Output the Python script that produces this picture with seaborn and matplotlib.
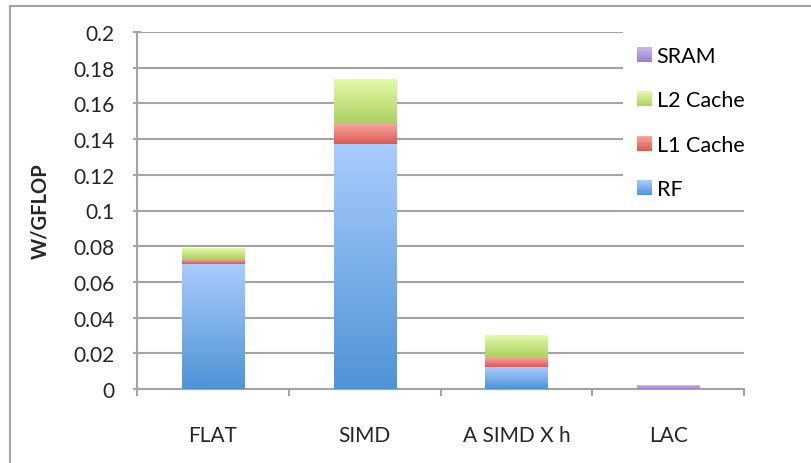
import numpy as np
import matplotlib
matplotlib.use("Agg")
import matplotlib.pyplot as plt
from matplotlib.colors import LinearSegmentedColormap
from matplotlib.legend_handler import HandlerBase
from matplotlib.patches import Rectangle
from matplotlib.lines import Line2D
import seaborn as sns

# ---- data -------------------------------------------------------------
categories = ["FLAT", "SIMD", "A SIMD X h", "LAC"]
rf = [0.0700, 0.1370, 0.0123, 0.0]
l1_cache = [0.0027, 0.0113, 0.0056, 0.0]
l2_cache = [0.0060, 0.0247, 0.0122, 0.0]
sram = [0.0, 0.0, 0.0, 0.0022]
series_names = ["RF", "L1 Cache", "L2 Cache", "SRAM"]
y_ticks = [0, 0.02, 0.04, 0.06, 0.08, 0.1, 0.12, 0.14, 0.16, 0.18, 0.2]
y_tick_labels = ["0", "0.02", "0.04", "0.06", "0.08", "0.1",
                 "0.12", "0.14", "0.16", "0.18", "0.2"]
y_label = "W/GFLOP"

# (top colour, bottom colour) of each series' vertical gradient
gradients = {
    "RF": ("#A9CCFE", "#4F93D6"),
    "L1 Cache": ("#FAA8A4", "#DA594E"),
    "L2 Cache": ("#E4FAA9", "#ACD061"),
    "SRAM": ("#CDB8EC", "#9A80C8"),
}

GRID = "#a4a4a4"
W, H = 811, 464
FS = 15

sns.set_theme(style="white")
plt.rcParams["font.family"] = ["Lato", "DejaVu Sans"]
plt.rcParams["text.color"] = "#000000"
plt.rcParams["patch.force_edgecolor"] = False

fig = plt.figure(figsize=(W / 100, H / 100), dpi=100)
ax = fig.add_axes([137 / W, 74 / H, 607 / W, 357 / H])

# ---- stacked bars -----------------------------------------------------
values = [rf, l1_cache, l2_cache, sram]
base = np.zeros(len(categories))
series_patches = {}
for name, vals in zip(series_names, values):
    n0 = len(ax.patches)
    sns.barplot(x=categories, y=vals, order=categories,
                color=gradients[name][1], saturation=1, width=0.41,
                errorbar=None, ax=ax, zorder=3, linewidth=0)
    new = ax.patches[n0:]
    for patch, b in zip(new, base):
        patch.set_y(b)
    series_patches[name] = new
    base = base + np.asarray(vals)

x_lo, x_hi = -0.5, len(categories) - 0.5
y_lo, y_hi = 0, 0.2

# gradient fill for every segment
ramp = np.linspace(0, 1, 256).reshape(-1, 1)
for name in series_names:
    top, bottom = gradients[name]
    cmap = LinearSegmentedColormap.from_list(name, [bottom, top])
    for patch in series_patches[name]:
        h = patch.get_height()
        patch.set_facecolor("none")
        if h <= 0:
            patch.set_visible(False)
            continue
        x0, y0, w = patch.get_x(), patch.get_y(), patch.get_width()
        ax.imshow(ramp, extent=(x0, x0 + w, y0, y0 + h), origin="lower",
                  aspect="auto", cmap=cmap, zorder=3, interpolation="nearest")
ax.set_xlim(x_lo, x_hi)
ax.set_ylim(y_lo, y_hi)

# ---- axes styling -----------------------------------------------------
ax.set_yticks(y_ticks)
ax.set_yticklabels(y_tick_labels)
ax.yaxis.grid(True, color=GRID, linewidth=1.5)
ax.xaxis.grid(False)
ax.set_axisbelow(True)
for side in ("top", "right"):
    ax.spines[side].set_visible(False)
for side in ("left", "bottom"):
    ax.spines[side].set_color(GRID)
    ax.spines[side].set_linewidth(1.5)

ax.tick_params(axis="y", which="major", direction="inout", length=6,
               width=1.5, color=GRID, pad=13, labelsize=FS, left=True)
ax.set_xticks(range(len(categories)))
ax.set_xticklabels(categories)
ax.set_xticks(np.arange(x_lo, x_hi + 0.01, 1), minor=True)
ax.tick_params(axis="x", which="major", length=0, pad=26, labelsize=FS)
ax.tick_params(axis="x", which="minor", direction="out", length=5,
               width=1.5, color=GRID, bottom=True)
ax.set_xlabel("")
ax.set_ylabel(y_label, fontsize=14.5, fontweight="bold")
ax.yaxis.set_label_coords(-0.143, 0.5)

# white panel behind the legend, hiding the grid lines there
ax.add_patch(Rectangle((623 / W, 1 - 211 / H), 124 / W, 180 / H,
                       transform=fig.transFigure, facecolor="white",
                       edgecolor="none", linewidth=0, zorder=4))


# ---- legend -----------------------------------------------------------
class GradientSwatch:
    def __init__(self, top, bottom):
        self.top, self.bottom = top, bottom


class GradientHandler(HandlerBase):
    def create_artists(self, legend, orig_handle, xdescent, ydescent,
                       width, height, fontsize, trans):
        cmap = LinearSegmentedColormap.from_list(
            "swatch", [orig_handle.bottom, orig_handle.top])
        n = 12
        out = []
        for i in range(n):
            out.append(Rectangle((-xdescent, -ydescent + height * i / n),
                                 width, height / n * 1.05,
                                 facecolor=cmap((i + 0.5) / n),
                                 edgecolor="none", linewidth=0,
                                 transform=trans))
        return out


order = list(reversed(series_names))
handles = [GradientSwatch(*gradients[n]) for n in order]
leg = ax.legend(handles, order, handler_map={GradientSwatch: GradientHandler()},
                loc="upper left", bbox_to_anchor=(621 / W, 1 - 31 / H),
                bbox_transform=fig.transFigure, borderaxespad=0,
                frameon=False, fontsize=15.5,
                handlelength=0.7, handleheight=0.7,
                handletextpad=0.2, labelspacing=1.13, borderpad=0.75)
leg.set_zorder(5)

# ---- outer chart-area frame ------------------------------------------
fig.add_artist(Line2D([10 / W, 1], [1 - 7 / H, 1 - 7 / H],
                      transform=fig.transFigure, color=GRID, linewidth=1.5))
fig.add_artist(Line2D([10 / W, 10 / W], [0, 1 - 7 / H],
                      transform=fig.transFigure, color=GRID, linewidth=1.5))

fig.savefig("out.png", dpi=100, facecolor="white")
